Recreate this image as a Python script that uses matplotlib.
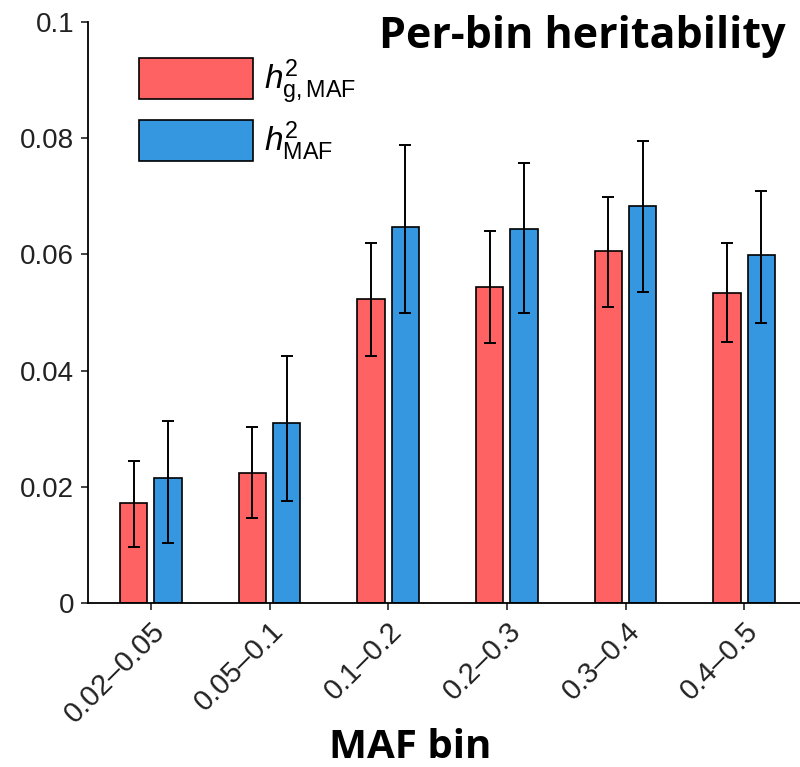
import matplotlib
matplotlib.use("Agg")
import matplotlib.pyplot as plt
import numpy as np

# MAF bins and per-bin heritability estimates
bins = ["0.02\u20130.05", "0.05\u20130.1", "0.1\u20130.2", "0.2\u20130.3", "0.3\u20130.4", "0.4\u20130.5"]
h2_g_maf = [0.0172, 0.0223, 0.0523, 0.0544, 0.0606, 0.0533]
h2_g_maf_lo = [0.0096, 0.0147, 0.0426, 0.0447, 0.0509, 0.0450]
h2_g_maf_hi = [0.0244, 0.0303, 0.0619, 0.0640, 0.0699, 0.0619]
h2_maf = [0.0216, 0.0309, 0.0647, 0.0644, 0.0684, 0.0599]
h2_maf_lo = [0.0103, 0.0176, 0.0499, 0.0499, 0.0536, 0.0482]
h2_maf_hi = [0.0313, 0.0426, 0.0789, 0.0757, 0.0795, 0.0709]

red = "#FE6262"
blue = "#3597E0"

plt.rcParams["font.family"] = ["Liberation Sans", "DejaVu Sans"]
plt.rcParams["mathtext.fontset"] = "custom"
plt.rcParams["mathtext.rm"] = "Liberation Sans"
plt.rcParams["mathtext.it"] = "Liberation Sans:italic"


def err(vals, lo, hi):
    vals = np.array(vals)
    return [vals - np.array(lo), np.array(hi) - vals]


fig = plt.figure(figsize=(8, 7.67), dpi=100)
ax = fig.add_axes([0.11, 0.2138, 0.89, 0.7575])

x = np.arange(len(bins))
w = 0.23
off = 0.145
ekw = dict(ecolor="black", elinewidth=1.4, capsize=4.5, capthick=1.4)
ax.bar(x - off, h2_g_maf, w, color=red, edgecolor="black", linewidth=1.2,
       yerr=err(h2_g_maf, h2_g_maf_lo, h2_g_maf_hi), error_kw=ekw,
       label=r"$h^2_{\mathrm{g,MAF}}$")
ax.bar(x + off, h2_maf, w, color=blue, edgecolor="black", linewidth=1.2,
       yerr=err(h2_maf, h2_maf_lo, h2_maf_hi), error_kw=ekw,
       label=r"$h^2_{\mathrm{MAF}}$")

ax.set_xlim(-0.53, 5.47)
ax.set_ylim(0, 0.1)
ax.set_yticks([0, 0.02, 0.04, 0.06, 0.08, 0.1])
ax.set_yticklabels(["0", "0.02", "0.04", "0.06", "0.08", "0.1"])
ax.set_xticks(x)
ax.set_xticklabels(bins, rotation=45, ha="right", rotation_mode="anchor")
ax.tick_params(labelsize=20, length=5, width=1.2, colors="#222222", pad=5)
ax.tick_params(axis="x", labelsize=21)
ax.spines["top"].set_visible(False)
ax.spines["right"].set_visible(False)
for s in ["left", "bottom"]:
    ax.spines[s].set_linewidth(1.3)

leg = ax.legend(loc="upper left", bbox_to_anchor=(0.03, 0.99), frameon=False,
                fontsize=24, handlelength=3.4, handleheight=1.5,
                labelspacing=0.4, handletextpad=0.35)

fig.text(0.982, 0.952, "Per-bin heritability", ha="right", va="center",
         fontsize=31, fontweight="bold", family=["Open Sans", "DejaVu Sans"])
fig.text(0.513, 0.025, "MAF bin", ha="center", va="center",
         fontsize=29, fontweight="bold", family=["Open Sans", "DejaVu Sans"])

fig.savefig("out.png", dpi=100)
